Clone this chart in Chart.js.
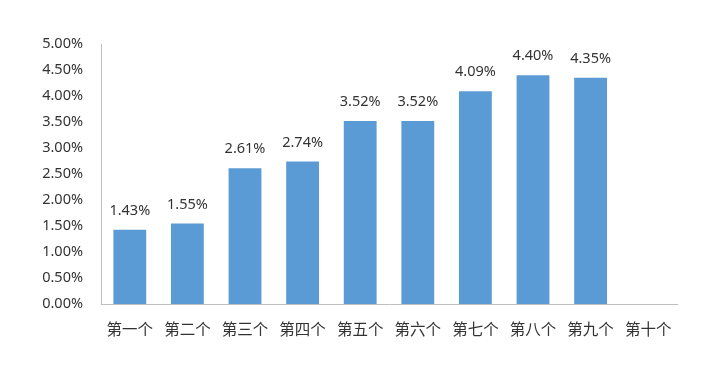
<!DOCTYPE html>
<html><head><meta charset="utf-8">
<script src="https://cdn.jsdelivr.net/npm/chart.js@4/dist/chart.umd.min.js"></script>
<style>html,body{margin:0;padding:0;background:#fff}#wrap{width:701px;height:367px;position:relative}</style>
</head><body><div id="wrap"><canvas id="c"></canvas></div>
<script>
const categories = ["第一个","第二个","第三个","第四个","第五个","第六个","第七个","第八个","第九个","第十个"];
const values = [1.43, 1.55, 2.61, 2.74, 3.52, 3.52, 4.09, 4.40, 4.35, null];
const yMin = 0, yMax = 5, yStep = 0.5;

const FONT = '"Noto Sans","Noto Sans CJK SC",sans-serif';
const labelPlugin = {
  id: 'lbl',
  afterDatasetsDraw(chart) {
    const ctx = chart.ctx;
    const meta = chart.getDatasetMeta(0);
    ctx.save();
    ctx.font = '14.5px ' + FONT;
    ctx.fillStyle = '#333333';
    ctx.textAlign = 'center';
    ctx.textBaseline = 'middle';
    meta.data.forEach((el, i) => {
      const v = values[i];
      if (v == null) return;
      ctx.fillText(v.toFixed(2) + '%', el.x, el.y - 19);
    });
    ctx.restore();
  }
};

new Chart(document.getElementById('c'), {
  type: 'bar',
  data: { labels: categories, datasets: [{ data: values, backgroundColor: '#5B9BD5', borderWidth: 0, categoryPercentage: 1, barPercentage: 0.57 }] },
  options: {
    responsive: true, maintainAspectRatio: false, animation: false,
    layout: { padding: { top: 44, right: 24, left: 0, bottom: 0 } },
    plugins: { legend: { display: false }, tooltip: { enabled: false } },
    scales: {
      x: {
        grid: { display: false, drawTicks: false },
        border: { display: true, color: '#BFBFBF', width: 1 },
        ticks: { color: '#333333', font: { size: 15.5, family: '"Noto Sans CJK SC",sans-serif' }, padding: 16, maxRotation: 0, autoSkip: false },
        afterFit(s) { s.height = 63; }
      },
      y: {
        min: yMin, max: yMax,
        grid: { display: false, drawTicks: false },
        border: { display: true, color: '#BFBFBF', width: 1 },
        ticks: { stepSize: yStep, color: '#333333', font: { size: 14.5, family: FONT }, padding: 18, callback: v => v.toFixed(2) + '%' },
        afterFit(s) { s.width = 101; }
      }
    }
  },
  plugins: [labelPlugin]
});
</script></body></html>
